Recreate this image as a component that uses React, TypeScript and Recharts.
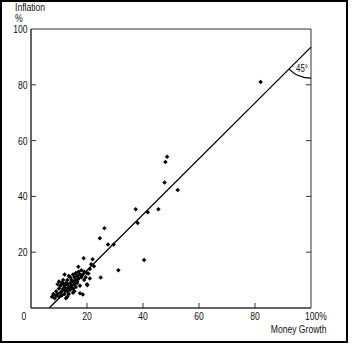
import React from 'react'
import { ScatterChart, Scatter, XAxis, YAxis, ReferenceLine, ReferenceDot, ReferenceArea } from 'recharts'

// money growth (%), inflation (%) per country
const moneyGrowth = [
  7.5, 8, 8.5, 9, 9, 9.5, 10, 10, 10.5, 10.5, 11, 11, 11, 11.5, 11.5, 12, 12, 12, 12.5, 12.5,
  12.5, 13, 13, 13, 13.5, 13.5, 14, 14, 14, 14.5, 14.5, 15, 15, 15, 15.5, 15.5, 16, 16, 16, 16.5,
  16.5, 17, 17, 17.5, 17.5, 18, 18, 18.5, 18.5, 19, 19, 19.5, 20, 20, 20.5, 21, 21.5, 22, 18.8, 16.9,
  17.5, 20.1, 24.9, 31.2, 40.4, 24.6, 26.2, 27.5, 29.5, 38.1, 37.4, 41.7, 45.5, 47.7, 48, 48.6, 52.4, 82,
  12, 9.5, 13, 15, 22.5, 21, 10, 11.5, 13.5, 14, 15.5, 16.5,
]
const inflation = [
  4, 5, 3.5, 4.5, 6, 5, 4, 7, 5.5, 8, 6, 9, 4.5, 7, 10, 5, 8, 6.5, 9, 7,
  3.5, 6, 8.5, 10, 7.5, 5, 9, 6.5, 11, 8, 10, 7, 9.5, 12, 8.5, 11, 10, 12.5, 7.5, 9,
  11.5, 10.5, 13, 12, 8, 11, 13.5, 12, 4.8, 10, 13, 11, 12.5, 8.5, 12.4, 10.6, 15.7, 17.5, 17.8, 14.8,
  5.3, 8.2, 10.9, 13.5, 17.2, 25, 28.6, 22.8, 22.8, 30.5, 35.4, 34.3, 35.4, 45, 52.3, 54.2, 42.3, 81,
  12, 8.5, 4, 5.5, 15, 14, 9.5, 8.5, 11.5, 7.5, 6, 9.5,
]
const xTicks = [0, 20, 40, 60, 80, 100]
const yTicks = [20, 40, 60, 80, 100]
const innerTicks = [20, 40, 60, 80]
const lineStart = { x: 6.5, y: 0 }
const lineEnd = { x: 100, y: 93.5 }

const data = moneyGrowth.map((x, i) => ({ x, y: inflation[i] }))

const FONT = "'Liberation Sans', Arial, sans-serif"
const AXIS = '#333'
const SQUEEZE = 0.78

// condensed look: no narrow font installed, so squeeze horizontally
const NarrowText = ({ x, y, anchor, size = 11, children }: any) => (
  <text
    transform={`translate(${x} ${y}) scale(${SQUEEZE} 1)`}
    textAnchor={anchor}
    fontFamily={FONT}
    fontSize={size}
    fill="#111"
  >
    {children}
  </text>
)

const LeftTick = (props: any) => {
  const { x, y, payload } = props
  return (
    <g>
      {payload.value !== 100 && <line x1={x} x2={x + 5} y1={y} y2={y} stroke={AXIS} />}
      <NarrowText x={x - 3.5} y={y + 4} anchor="end">{payload.value}</NarrowText>
    </g>
  )
}

const BottomTick = (props: any) => {
  const { x, y, payload } = props
  const v = payload.value
  const showLine = v > 0 && v < 100
  let label = <NarrowText x={x} y={y + 12} anchor="middle">{v}</NarrowText>
  if (v === 0) label = <NarrowText x={x - 7} y={y + 12} anchor="middle">0</NarrowText>
  if (v === 100) label = <NarrowText x={x - 6} y={y + 12} anchor="start">100%</NarrowText>
  return (
    <g>
      {showLine && <line x1={x} x2={x} y1={y} y2={y - 5} stroke={AXIS} />}
      {label}
    </g>
  )
}

const Dot = (props: any) => {
  const { cx, cy } = props
  return <rect x={cx - 1.6} y={cy - 1.6} width={3.2} height={3.2} fill="#000" transform={`rotate(45 ${cx} ${cy})`} />
}

// 45 degree marker where the line meets the right axis
const AngleMark = (props: any) => {
  const { cx, cy } = props
  const r = 31
  const a = (135 * Math.PI) / 180
  const sx = cx + r * Math.cos(a)
  const sy = cy + r * Math.sin(a)
  return (
    <g>
      <path d={`M ${sx} ${sy} A ${r} ${r} 0 0 0 ${cx} ${cy + r}`} fill="none" stroke="#000" strokeWidth={1.2} />
      <NarrowText x={cx - 9} y={cy + 25} anchor="middle" size={10}>45°</NarrowText>
    </g>
  )
}

const labelStyle: React.CSSProperties = {
  position: 'absolute',
  fontFamily: FONT,
  fontSize: 11,
  lineHeight: '11px',
  color: '#111',
  transform: `scaleX(${SQUEEZE})`,
  whiteSpace: 'nowrap',
}

export default function App() {
  return (
    <div style={{ position: 'absolute', left: 0, top: 0, width: 353, height: 347, background: '#fff' }}>
      <div style={{ position: 'absolute', left: 0, top: 0, width: 348, height: 343, border: '2px solid #000', boxSizing: 'border-box' }} />
      <div style={{ ...labelStyle, left: 15, top: 2, transformOrigin: 'left top' }}>Inflation</div>
      <div style={{ ...labelStyle, left: 15, top: 13, transformOrigin: 'left top' }}>%</div>
      <div style={{ ...labelStyle, right: 353 - 327, top: 324, transformOrigin: 'right top' }}>Money Growth</div>
      <ScatterChart width={353} height={347} margin={{ top: 29, right: 42, bottom: 9, left: 0 }} style={{ position: 'absolute', left: 0, top: 0 }}>
        <XAxis
          xAxisId="b"
          type="number"
          dataKey="x"
          domain={[0, 100]}
          ticks={xTicks}
          height={30}
          tickSize={0}
          tickMargin={0}
          tickLine={false}
          axisLine={{ stroke: AXIS }}
          tick={<BottomTick />}
          interval={0}
        />
        <YAxis
          yAxisId="l"
          type="number"
          dataKey="y"
          domain={[0, 100]}
          ticks={yTicks}
          width={31}
          tickSize={0}
          tickMargin={0}
          tickLine={false}
          axisLine={{ stroke: AXIS }}
          tick={<LeftTick />}
          interval={0}
        />
        <ReferenceArea xAxisId="b" yAxisId="l" x1={0} x2={100} y1={0} y2={100} fill="none" stroke={AXIS} strokeWidth={1} />
        {innerTicks.map((v) => (
          <ReferenceLine
            key={v}
            xAxisId="b"
            yAxisId="l"
            segment={[{ x: 98.2, y: v }, { x: 100, y: v }]}
            stroke={AXIS}
          />
        ))}
        <ReferenceLine
          xAxisId="b"
          yAxisId="l"
          segment={[lineStart, lineEnd]}
          stroke="#000"
          strokeWidth={1.3}
        />
        <ReferenceDot xAxisId="b" yAxisId="l" x={lineEnd.x} y={lineEnd.y} shape={<AngleMark />} />
        <Scatter xAxisId="b" yAxisId="l" data={data} shape={<Dot />} isAnimationActive={false} />
      </ScatterChart>
    </div>
  )
}
